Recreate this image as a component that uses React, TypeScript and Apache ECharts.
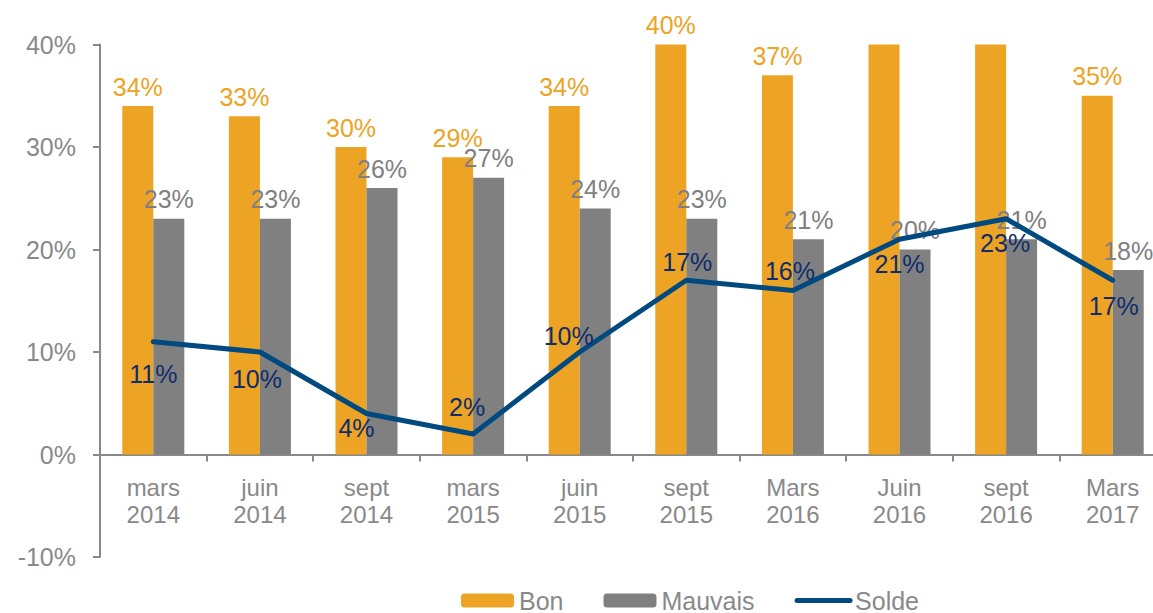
import React, { useEffect, useRef } from "react";
import * as echarts from "echarts";

const categories = [
  "mars\n2014", "juin\n2014", "sept\n2014", "mars\n2015", "juin\n2015",
  "sept\n2015", "Mars\n2016", "Juin\n2016", "sept\n2016", "Mars\n2017",
];
const bonValues = [34, 33, 30, 29, 34, 40, 37, 41, 44, 35];
const mauvaisValues = [23, 23, 26, 27, 24, 23, 21, 20, 21, 18];
const soldeValues = [11, 10, 4, 2, 10, 17, 16, 21, 23, 17];
const yTicks = { min: -10, max: 40, interval: 10 };

// label placement offsets (style only) for Solde labels, relative to each point
const soldeLabelOffsets: [number, number][] = [
  [0, 32], [-3, 27], [-10, 14], [-6, -27], [-11, -16],
  [1, -18], [-3, -20], [0, 25], [-1, 24], [1, 26],
];

const ORANGE = "#EDA323";
const GRAY = "#808080";
const NAVY = "#004A80";
const NAVY_TEXT = "#0E2D6A";
const AXIS = "#898989";
const FONT = "Liberation Sans, Arial, sans-serif";

export default function App() {
  const ref = useRef<HTMLDivElement>(null);
  useEffect(() => {
    if (!ref.current) return;
    const chart = echarts.init(ref.current, null, { renderer: "svg" });
    chart.setOption({
      animation: false,
      textStyle: { fontFamily: FONT },
      grid: {
        left: 100,
        top: 44.5,
        width: 1066,
        height: 512.5,
        containLabel: false,
        outerBoundsMode: "none",
      },
      legend: {
        left: 461,
        top: 588,
        padding: 0,
        itemWidth: 53,
        itemHeight: 14,
        itemGap: 40,
        textStyle: { color: AXIS, fontSize: 25, fontFamily: FONT },
        data: [
          "Bon",
          "Mauvais",
          {
            name: "Solde",
            itemStyle: { opacity: 0 },
            lineStyle: { width: 5, color: NAVY, cap: "round" },
          },
        ],
      },
      xAxis: {
        type: "category",
        data: categories,
        position: "bottom",
        offset: -102.5,
        axisLine: { onZero: false, lineStyle: { color: AXIS, width: 2 } },
        axisTick: { show: true, length: 7, lineStyle: { color: AXIS, width: 2 } },
        axisLabel: {
          color: AXIS,
          fontSize: 24,
          lineHeight: 27,
          margin: 19,
          interval: 0,
          fontFamily: FONT,
        },
        splitLine: { show: false },
      },
      yAxis: {
        type: "value",
        min: yTicks.min,
        max: yTicks.max,
        interval: yTicks.interval,
        axisLine: { show: true, lineStyle: { color: AXIS, width: 2 } },
        axisTick: { show: true, length: 7, lineStyle: { color: AXIS, width: 2 } },
        axisLabel: {
          formatter: "{value}%",
          color: AXIS,
          fontSize: 25,
          margin: 24,
          fontFamily: FONT,
        },
        splitLine: { show: false },
      },
      series: [
        {
          name: "Bon",
          type: "bar",
          barWidth: 31,
          barGap: "0%",
          clip: true,
          itemStyle: { color: ORANGE },
          label: {
            show: true,
            position: "top",
            distance: 7,
            formatter: "{c}%",
            color: ORANGE,
            fontSize: 25,
            fontFamily: FONT,
          },
          data: bonValues.map((v) =>
            v > yTicks.max ? { value: v, label: { show: false } } : v
          ),
        },
        {
          name: "Mauvais",
          type: "bar",
          barWidth: 31,
          barGap: "0%",
          itemStyle: { color: GRAY },
          label: {
            show: true,
            position: "top",
            distance: 7,
            formatter: "{c}%",
            color: GRAY,
            fontSize: 25,
            fontFamily: FONT,
          },
          data: mauvaisValues,
        },
        {
          name: "Solde",
          type: "line",
          symbol: "circle",
          symbolSize: 4,
          showSymbol: true,
          itemStyle: { color: NAVY },
          lineStyle: { color: NAVY, width: 5, cap: "round" },
          z: 5,
          label: {
            show: true,
            position: "inside",
            formatter: "{c}%",
            color: NAVY_TEXT,
            fontSize: 25,
            fontFamily: FONT,
          },
          data: soldeValues.map((v, i) => ({
            value: v,
            label: { offset: soldeLabelOffsets[i] },
          })),
        },
      ],
    });
    return () => chart.dispose();
  }, []);
  return (
    <div
      ref={ref}
      style={{ position: "fixed", left: 0, top: 0, width: 1153, height: 613, background: "#fff" }}
    />
  );
}
